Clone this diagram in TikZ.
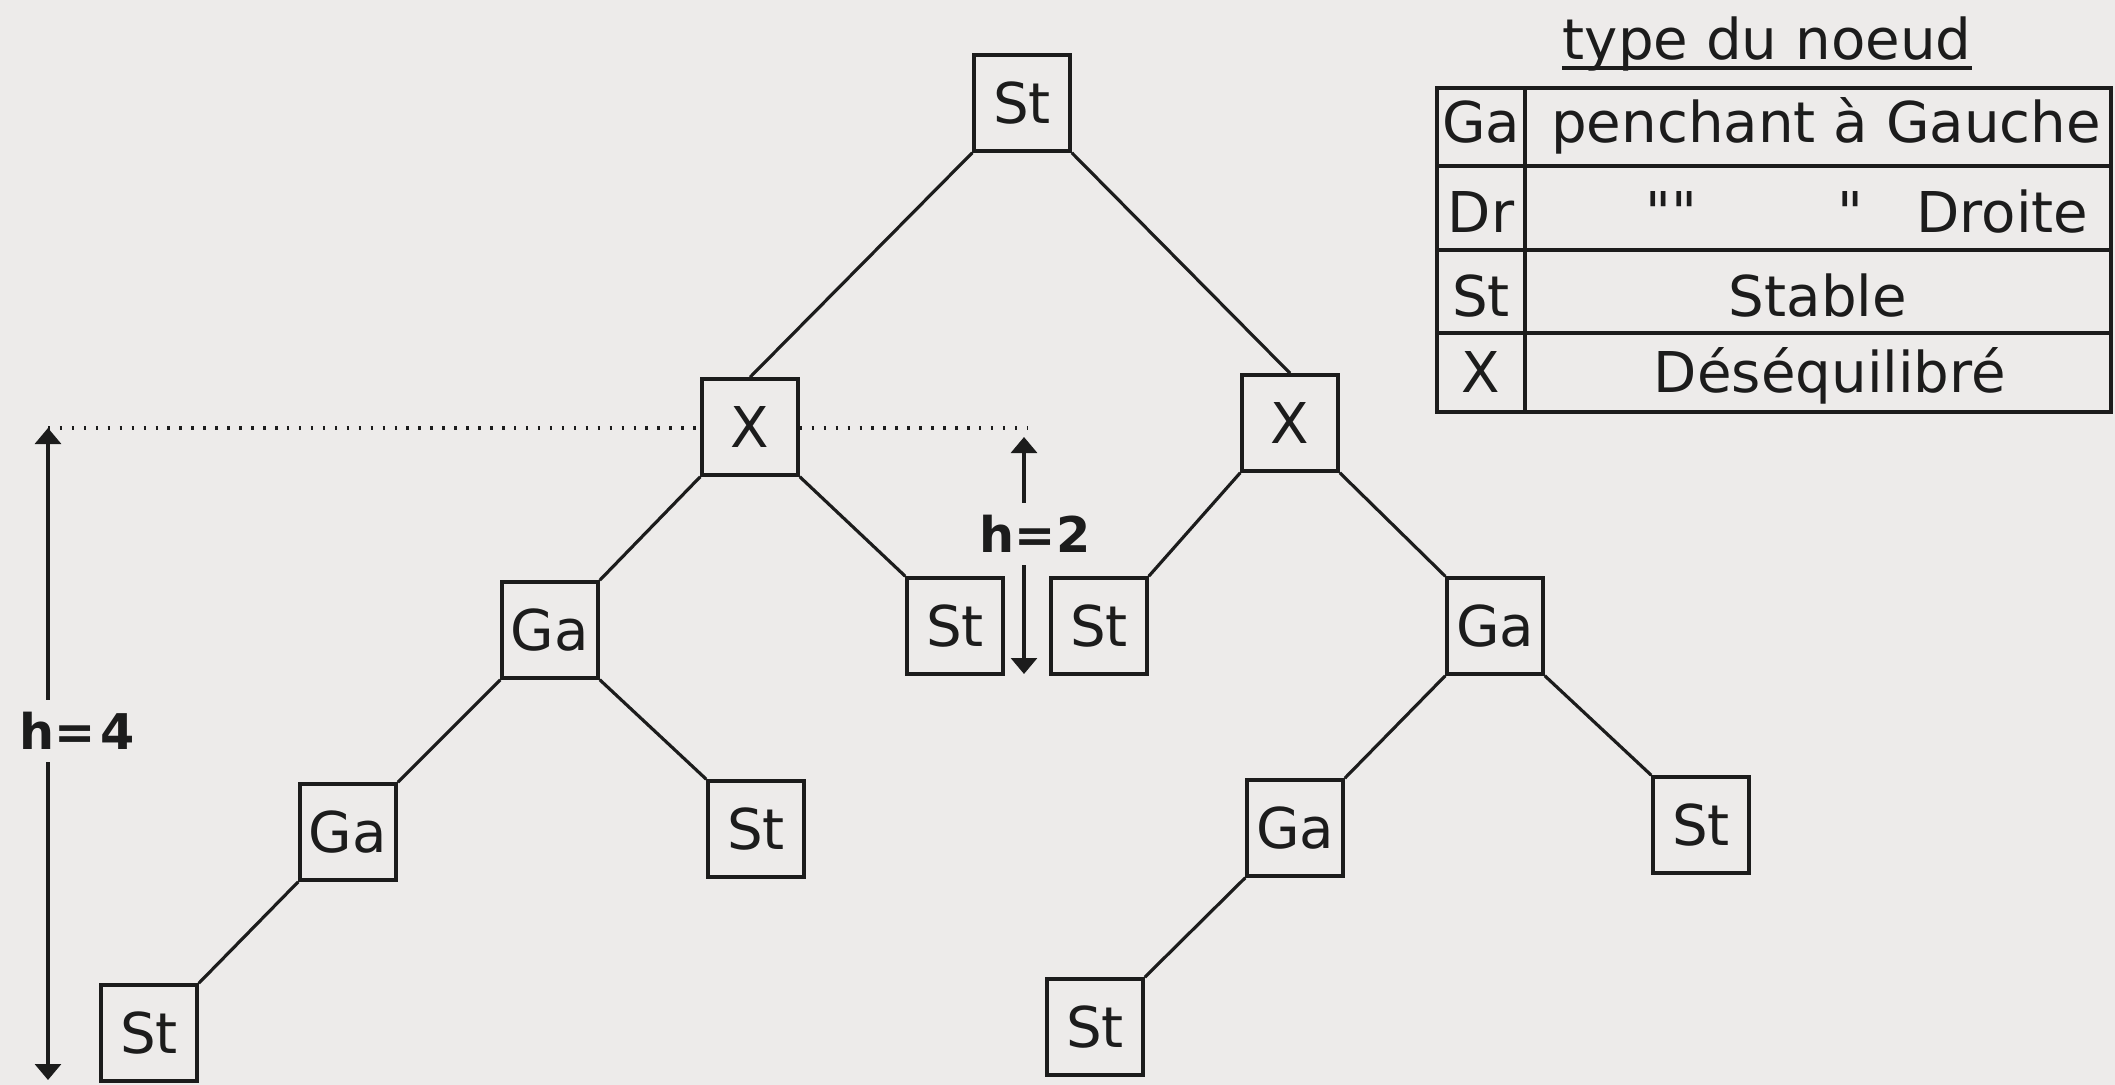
\documentclass[tikz,border=0pt]{standalone}
\usepackage{fontspec}
\setmainfont{DejaVu Sans}
% straight ditto marks: no TeX quote mapping
\newfontfamily\dittofont{DejaVu Sans}[Ligatures=TeXOff]
\usetikzlibrary{arrows.meta}
\definecolor{paper}{HTML}{EDEBEA}
\definecolor{ink}{HTML}{1C1C1C}
\begin{document}
\begin{tikzpicture}[x=0.1mm, y=-0.1mm,
  every node/.style={text=ink},
  tnode/.style={draw=ink, line width=1pt, minimum width=9.6mm, minimum height=9.6mm,
                inner sep=0pt, font=\fontsize{16pt}{19pt}\selectfont},
  edge/.style={draw=ink, line width=0.9pt},
  legtext/.style={anchor=base, inner sep=0pt, font=\fontsize{16pt}{19pt}\selectfont},
  dittotext/.style={anchor=base, inner sep=0pt, font=\fontsize{16pt}{19pt}\dittofont},
  hlabel/.style={font=\fontsize{14pt}{17pt}\selectfont\bfseries, inner sep=1.2mm},
  arr/.style={draw=ink, line width=0.9pt, -{Triangle[width=2.6mm,length=1.6mm]}},
  dots/.style={draw=ink, line width=1pt, dash pattern=on 0.7pt off 2.7pt},
  grid/.style={draw=ink, line width=1pt},
]
% paper
\fill[paper] (0,0) rectangle (2115,1085);
\useasboundingbox (0,0) rectangle (2115,1085);

% legend: title and table
\node[legtext] (title) at (1767,60) {type du noeud};
\draw[ink, line width=0.9pt] ([yshift=-2.3pt]title.base west) -- ([yshift=-2.3pt]title.base east);
\draw[grid] (1437,88) rectangle (2111,412);
\draw[grid] (1525,88) -- (1525,412);
\foreach \yy in {166,250,333} \draw[grid] (1437,\yy) -- (2111,\yy);
\node[legtext] (kGa) at (1481,143) {Ga};
\node[legtext] (vGa) at (1826,143) {penchant à Gauche};
\node[legtext] (kDr) at (1481,233) {Dr};
\node[dittotext] (vDra) at (1671,233) {""};
\node[dittotext] (vDrb) at (1850,233) {"};
\node[legtext, anchor=base east] (vDrc) at (2089,233) {Droite};
\node[legtext] (kSt) at (1481,317) {St};
\node[legtext] (vSt) at (1818,317) {Stable};
\node[legtext] (kX) at (1481,393) {X};
\node[legtext] (vX) at (1830,393) {Déséquilibré};

% tree nodes
\node[tnode] (root)  at (1022,103) {St};
\node[tnode] (xl)    at (750,427)  {X};
\node[tnode] (xr)    at (1290,423) {X};
\node[tnode] (gal)   at (550,630)  {Ga};
\node[tnode] (stm)   at (955,626)  {St};
\node[tnode] (stn)   at (1099,626) {St};
\node[tnode] (gar)   at (1495,626) {Ga};
\node[tnode] (gall)  at (348,832)  {Ga};
\node[tnode] (stlr)  at (756,829)  {St};
\node[tnode] (garl)  at (1295,828) {Ga};
\node[tnode] (strr)  at (1701,825) {St};
\node[tnode] (stlll) at (149,1033) {St};
\node[tnode] (strll) at (1095,1027) {St};

% tree edges
\draw[edge] (root.south west) -- (xl.north);
\draw[edge] (root.south east) -- (xr.north);
\draw[edge] (xl.south west) -- (gal.north east);
\draw[edge] (xl.south east) -- (stm.north west);
\draw[edge] (xr.south west) -- (stn.north east);
\draw[edge] (xr.south east) -- (gar.north west);
\draw[edge] (gal.south west) -- (gall.north east);
\draw[edge] (gal.south east) -- (stlr.north west);
\draw[edge] (gar.south west) -- (garl.north east);
\draw[edge] (gar.south east) -- (strr.north west);
\draw[edge] (gall.south west) -- (stlll.north east);
\draw[edge] (garl.south west) -- (strll.north east);

% heights
\coordinate (top4) at (48,428);
\coordinate (bot4) at (48,1080);
\coordinate (top2) at (1024,437);
\coordinate (bot2) at (1024,674);
\coordinate (dotend) at (1027,428);
\node[hlabel] (h4) at (77,731) {h=\hspace{0.1em}4};
\draw[arr] (h4.north -| top4) -- (top4);
\draw[arr] (h4.south -| bot4) -- (bot4);
\node[hlabel] (h2) at (1035,534) {h=2};
\draw[arr] (h2.north -| top2) -- (top2);
\draw[arr] (h2.south -| bot2) -- (bot2);
\draw[dots] (top4) -- (xl.west |- top4);
\draw[dots] (xl.east |- top4) -- (dotend);
\end{tikzpicture}
\end{document}
